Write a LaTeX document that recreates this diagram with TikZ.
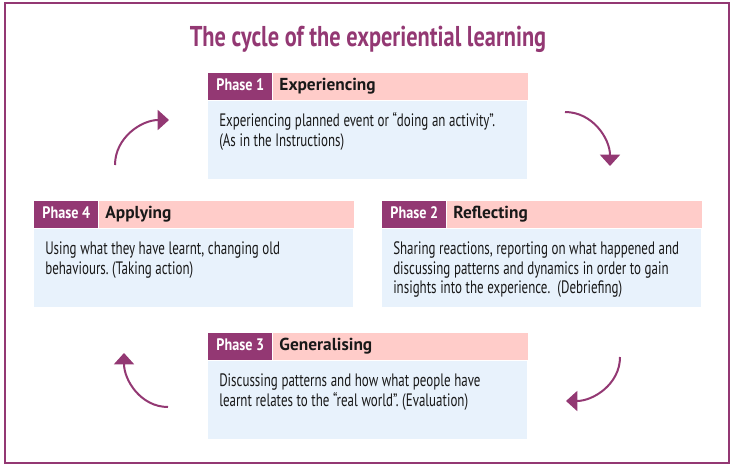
\documentclass[tikz,border=0pt]{standalone}
\usepackage{fontspec}
\setmainfont{PT Sans}[FakeStretch=0.72]
\newfontfamily\headfont{PT Sans}
\newfontfamily\tagfont{PT Sans}[FakeStretch=0.85]
\newfontfamily\titlefont{PT Sans}[FakeStretch=0.78]
\usetikzlibrary{positioning,arrows.meta}
\definecolor{cyclepurple}{RGB}{147,56,115}
\definecolor{headpink}{RGB}{255,204,201}
\definecolor{bodyblue}{RGB}{232,242,252}
\frenchspacing
\begin{document}
\begin{tikzpicture}[
    x=0.75pt, y=0.75pt,
    % Étiquette violette « Phase n »
    phasetag/.style={fill=cyclepurple, text=white, anchor=north west,
        font=\tagfont\fontsize{12.5}{14}\selectfont\bfseries,
        minimum width=48pt, minimum height=20.25pt, inner xsep=3pt,
        text height=8.5pt, text depth=2.5pt},
    % Bandeau rose avec le titre de la phase
    phasehead/.style={fill=headpink, text=black!90, align=left,
        font=\headfont\fontsize{13}{15}\selectfont\bfseries,
        text width=181.25pt, inner xsep=5pt, minimum height=20.25pt,
        text height=8.5pt, text depth=2.5pt},
    % Corps du texte sur fond bleu
    phasebody/.style={fill=bodyblue, text=black!90, anchor=north west, align=left,
        font=\fontsize{13.5}{14.5}\selectfont,
        execute at begin node={\spaceskip=2.7pt plus 1pt minus 0.5pt\relax},
        text width=222.75pt, inner xsep=8.25pt, inner ysep=7.5pt,
        text height=12pt, text depth=31.5pt},
    cyclearrow/.style={draw=cyclepurple, line width=1.5pt,
        -{Triangle[width=15pt,length=8.5pt]}}
]
\useasboundingbox (0,0) rectangle (731,-467);
% Cadre
\draw[cyclepurple, line width=1.5pt] (5,-3) rectangle (729,-463);
\node[text=cyclepurple, anchor=base, font=\titlefont\fontsize{21.5}{25}\selectfont\bfseries]
    (title) at (368,-46) {The cycle of the experiential learning};

% Phase 1
\node[phasetag] (tag1) at (208,-73) {Phase 1};
\node[phasehead, right=0pt of tag1] (head1) {Experiencing};
\node[phasebody] (body1) at (tag1.south west)
    {Experiencing planned event or “doing an activity”.\\(As in the Instructions)};

% Phase 2
\node[phasetag] (tag2) at (382,-201) {Phase 2};
\node[phasehead, right=0pt of tag2] (head2) {Reflecting};
\node[phasebody] (body2) at (tag2.south west)
    {Sharing reactions, reporting on what happened and\\discussing patterns and dynamics in order to gain\\insights into the experience.~ (Debriefing)};

% Phase 3
\node[phasetag] (tag3) at (208,-333) {Phase 3};
\node[phasehead, right=0pt of tag3] (head3) {Generalising};
\node[phasebody] (body3) at (tag3.south west)
    {Discussing patterns and how what people have\\learnt relates to the “real world”. (Evaluation)};

% Phase 4
\node[phasetag] (tag4) at (34,-201) {Phase 4};
\node[phasehead, right=0pt of tag4] (head4) {Applying};
\node[phasebody] (body4) at (tag4.south west)
    {Using what they have learnt, changing old\\behaviours. (Taking action)};

% Flèches du cycle
\coordinate (a12s) at (565,-112);
\coordinate (a12e) at (610,-166);
\coordinate (a23s) at (620,-357);
\coordinate (a23e) at (566,-401);
\coordinate (a34s) at (168,-407);
\coordinate (a34e) at (124,-353);
\coordinate (a41s) at (115,-165);
\coordinate (a41e) at (169,-120);
\draw[cyclearrow] (a12s) to[out=0, in=90] (a12e);
\draw[cyclearrow] (a23s) to[out=-90, in=0] (a23e);
\draw[cyclearrow] (a34s) to[out=180, in=-90] (a34e);
\draw[cyclearrow] (a41s) to[out=90, in=180] (a41e);
\end{tikzpicture}
\end{document}
